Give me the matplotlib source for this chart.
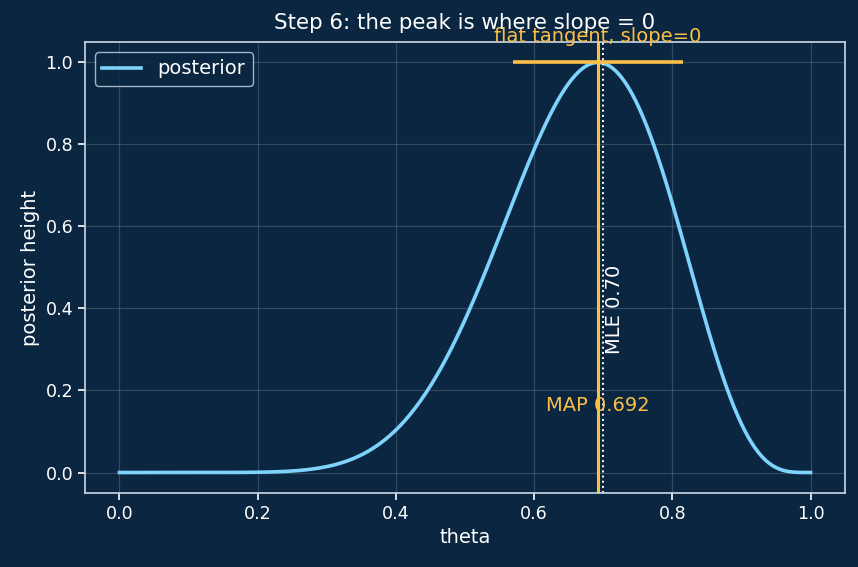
import numpy as np
import matplotlib
matplotlib.use("Agg")
import matplotlib.pyplot as plt

# Model values: Beta(3, 2) prior, 7 successes out of 10 trials
prior_a = 3
prior_b = 2
successes = 7
trials = 10
theta = np.linspace(0, 1, 400)
tangent_half = 0.123

post_a = prior_a + successes
post_b = prior_b + trials - successes
map_est = (post_a - 1) / (post_a + post_b - 2)
mle_est = successes / trials

post = theta ** (post_a - 1) * (1 - theta) ** (post_b - 1)
post = post / post.max()

bg = "#0b2640"
fg = "white"
blue = "#7dd3fc"
orange = "#fbbf47"

fig, ax = plt.subplots(figsize=(8.58, 5.67), dpi=100)
fig.patch.set_facecolor(bg)
ax.set_facecolor(bg)

ax.plot(theta, post, color=blue, lw=2.6, label="posterior")
ax.axvline(map_est, color=orange, lw=2.2)
ax.axvline(mle_est, color=fg, lw=1.4, ls=":")
ax.hlines(1.0, map_est - tangent_half, map_est + tangent_half, color=orange, lw=2.6)

ax.text(map_est, 1.04, "flat tangent, slope=0", color=orange, ha="center",
        va="bottom", fontsize=14)
ax.text(map_est, 0.14, f"MAP {map_est:.3f}", color=orange, ha="center",
        va="bottom", fontsize=14)
ax.text(mle_est + 0.003, 0.29, f"MLE {mle_est:.2f}", color=fg, rotation=90,
        ha="left", va="bottom", fontsize=14)

ax.set_title("Step 6: the peak is where slope = 0", color=fg, fontsize=15.4, pad=9)
ax.set_xlabel("theta", color=fg, fontsize=14)
ax.set_ylabel("posterior height", color=fg, fontsize=14)
ax.tick_params(colors=fg, labelsize=12.6, length=5, width=1.2)
for s in ax.spines.values():
    s.set_color("#c8d8e8")
    s.set_linewidth(1.2)
ax.grid(True, color="#c8d8e8", alpha=0.2, lw=0.9)

leg = ax.legend(loc="upper left", fontsize=14, facecolor=bg, edgecolor="#c8d8e8",
                labelcolor=fg)

plt.subplots_adjust(left=0.099, right=0.985, top=0.926, bottom=0.1305)
plt.savefig("out.png", dpi=100, facecolor=bg)
